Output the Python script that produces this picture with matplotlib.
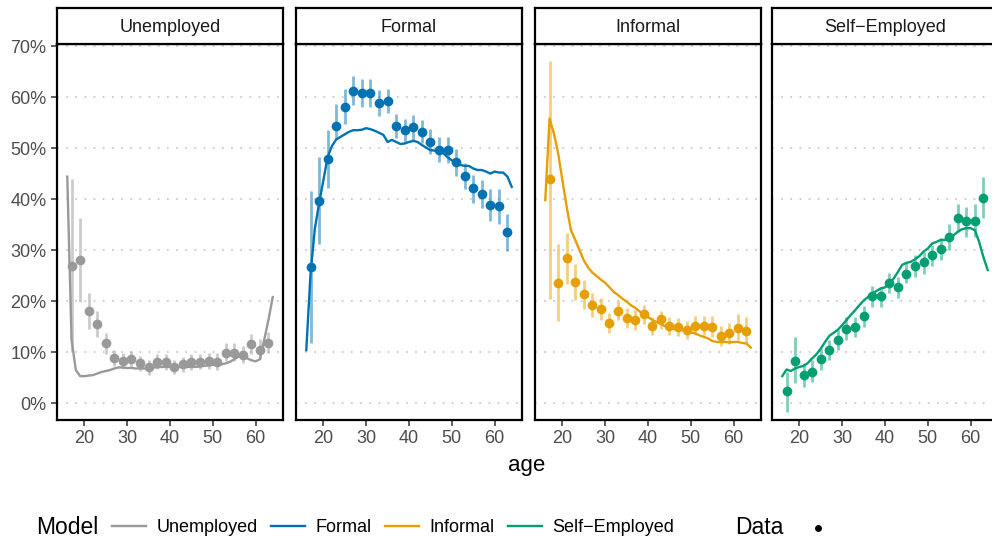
import numpy as np
import matplotlib.pyplot as plt
from matplotlib.lines import Line2D

plt.rcParams['font.family'] = ['Liberation Sans', 'DejaVu Sans']

groups = ['Unemployed', 'Formal', 'Informal', 'Self\u2212Employed']
colors = ['#999999', '#0072B2', '#E69F00', '#009E73']

# model shares, ages 16..64
age_model = np.arange(16, 65)
model_unemp = [44.4, 12.4, 6.5, 5.3, 5.3, 5.4, 5.5, 5.8, 6.1, 6.3, 6.5, 6.8, 7.0, 7.0, 6.9, 6.9, 6.8,
               6.8, 6.8, 6.9, 7.0, 7.0, 7.1, 7.1, 7.1, 7.1, 7.1, 7.1, 7.1, 7.1, 7.1, 7.2, 7.3, 7.4,
               7.5, 7.5, 7.6, 7.8, 8.1, 8.6, 9.1, 9.0, 8.8, 8.4, 8.2, 8.6, 12.4, 16.3, 20.8]
model_formal = [10.4, 25.4, 34.2, 39.2, 43.7, 48.3, 50.4, 51.7, 52.2, 52.7, 53.2, 53.5, 53.5, 53.6,
                53.9, 53.7, 53.4, 53.0, 52.6, 51.2, 51.6, 51.2, 50.8, 50.9, 51.2, 51.4, 51.2, 50.6,
                50.1, 49.6, 49.5, 49.5, 49.0, 48.2, 47.6, 47.3, 46.7, 46.5, 46.5, 46.0, 45.7, 45.7,
                45.4, 45.0, 45.4, 45.2, 45.2, 44.4, 42.4]
model_informal = [39.8, 55.8, 52.9, 49.0, 43.7, 38.5, 33.9, 32.0, 30.0, 28.0, 26.6, 25.6, 24.9, 24.2,
                  23.6, 22.7, 21.8, 21.2, 20.5, 19.9, 19.2, 18.7, 18.0, 17.5, 16.9, 16.3, 15.9, 15.5,
                  15.1, 15.0, 14.6, 14.4, 14.3, 14.1, 13.8, 13.7, 13.3, 13.0, 12.7, 12.2, 12.0, 12.0,
                  12.0, 11.9, 12.0, 12.0, 11.8, 11.7, 10.9]
model_self = [5.3, 6.6, 6.3, 6.8, 7.1, 7.3, 7.9, 8.8, 9.6, 10.7, 12.0, 13.2, 13.8, 14.4, 15.3, 16.3,
              17.3, 18.2, 19.2, 20.1, 20.8, 21.5, 22.0, 22.5, 22.7, 23.5, 24.4, 25.7, 27.1, 27.5,
              27.7, 28.2, 28.8, 29.7, 30.3, 31.3, 31.6, 32.0, 32.0, 32.5, 32.9, 33.6, 34.1, 34.3,
              34.3, 33.9, 31.6, 28.6, 26.1]

# observed shares with confidence bands, ages 17, 19, ..., 63
age_data = np.arange(17, 64, 2)
data_unemp = [26.9, 28.0, 18.1, 15.5, 11.7, 8.8, 8.2, 8.6, 7.8, 7.0, 8.1, 8.0, 7.1, 7.6, 8.0, 8.1,
              8.2, 8.1, 9.9, 9.9, 9.5, 11.5, 10.5, 11.8]
lo_unemp = [10.1, 19.9, 14.6, 13.0, 9.7, 7.3, 6.7, 7.1, 6.4, 5.6, 6.6, 6.5, 5.8, 6.2, 6.5, 6.6, 6.7,
            6.5, 8.2, 8.2, 7.8, 9.6, 8.6, 9.8]
hi_unemp = [43.9, 36.2, 21.5, 18.1, 13.7, 10.4, 9.8, 10.2, 9.3, 8.5, 9.6, 9.6, 8.5, 9.1, 9.6, 9.7,
            9.8, 9.8, 11.7, 11.7, 11.3, 13.5, 12.5, 14.0]
data_formal = [26.7, 39.7, 47.8, 54.3, 58.1, 61.2, 60.7, 60.8, 58.9, 59.2, 54.3, 53.5, 54.1, 53.2,
               51.2, 49.7, 49.6, 47.2, 44.5, 42.2, 41.0, 38.8, 38.6, 33.5]
lo_formal = [11.7, 31.2, 42.1, 51.7, 54.7, 58.4, 58.1, 58.1, 56.3, 56.8, 51.9, 51.2, 51.6, 50.9,
             48.8, 47.3, 47.1, 44.5, 41.9, 39.3, 38.2, 35.8, 35.2, 29.9]
hi_formal = [41.6, 48.3, 53.5, 58.6, 61.5, 64.1, 63.5, 63.5, 61.4, 61.5, 56.7, 55.7, 56.5, 55.5,
             53.7, 52.1, 52.1, 49.9, 47.1, 44.7, 43.7, 41.9, 41.9, 37.1]
data_informal = [43.9, 23.6, 28.4, 23.7, 21.4, 19.2, 18.4, 15.8, 18.1, 16.6, 16.3, 17.4, 15.1, 16.4,
                 15.1, 15.0, 14.3, 15.2, 15.2, 15.0, 13.1, 13.7, 14.8, 14.1]
lo_informal = [20.5, 16.1, 23.3, 20.2, 18.4, 16.9, 16.3, 13.8, 16.3, 14.8, 14.4, 15.5, 13.3, 14.6,
               13.3, 13.1, 12.5, 13.3, 13.3, 13.0, 11.2, 11.6, 12.4, 11.4]
hi_informal = [67.1, 31.2, 33.4, 27.3, 24.2, 21.5, 20.7, 17.6, 20.1, 18.6, 18.2, 19.2, 16.9, 18.1,
               16.8, 16.6, 16.1, 17.1, 17.1, 17.1, 15.1, 15.8, 17.5, 16.9]
data_self = [2.4, 8.3, 5.5, 6.1, 8.6, 10.4, 12.4, 14.6, 15.0, 17.1, 21.0, 21.0, 23.6, 22.8, 25.4,
             26.9, 27.7, 29.0, 30.2, 32.6, 36.2, 35.8, 35.8, 40.3]
lo_self = [-1.7, 3.9, 3.2, 4.2, 6.5, 8.4, 10.4, 12.4, 13.0, 15.0, 18.9, 18.9, 21.5, 20.7, 23.5, 24.8,
           25.4, 26.9, 28.0, 30.0, 33.6, 32.6, 32.6, 36.2]
hi_self = [6.1, 13.0, 7.9, 8.4, 10.7, 12.4, 14.3, 16.9, 16.9, 19.0, 22.9, 22.8, 25.6, 24.8, 27.4,
           29.0, 29.7, 31.0, 32.3, 35.2, 39.0, 38.5, 39.0, 44.4]

models = [model_unemp, model_formal, model_informal, model_self]
datas = [data_unemp, data_formal, data_informal, data_self]
los = [lo_unemp, lo_formal, lo_informal, lo_self]
his = [hi_unemp, hi_formal, hi_informal, hi_self]

yticks = [0, 10, 20, 30, 40, 50, 60, 70]
xticks = [20, 30, 40, 50, 60]

W, H = 992, 540
fig = plt.figure(figsize=(W / 100, H / 100), dpi=100)

lefts = [57, 296, 535, 772]
pw = 226
top, bottom = 44, 420
strip_top = 8

for i in range(4):
    ax = fig.add_axes([lefts[i] / W, (H - bottom) / H, pw / W, (bottom - top) / H])
    for y in yticks:
        ax.axhline(y, color='#c4c4c4', lw=1.2, ls=(0, (1, 4.5)), zorder=0)
    ax.plot(age_model, models[i], color=colors[i], lw=1.7, zorder=2)
    ax.vlines(age_data, los[i], his[i], color=colors[i], alpha=0.5, lw=2.0, zorder=3)
    ax.plot(age_data, datas[i], 'o', color=colors[i], ms=7.0, mew=0, zorder=4)
    ax.set_xlim(13.6, 66.4)
    ax.set_ylim(-3.3, 70.4)
    ax.set_xticks(xticks)
    ax.set_yticks(yticks)
    ax.tick_params(colors='#333333', labelcolor='#4d4d4d', labelsize=13, length=4, width=1.1)
    if i == 0:
        ax.set_yticklabels([f'{y}%' for y in yticks])
    else:
        ax.tick_params(axis='y', length=0, labelleft=False)
    for s in ax.spines.values():
        s.set_linewidth(1.6)
        s.set_color('black')

    # facet strip
    sx = fig.add_axes([lefts[i] / W, (H - top) / H, pw / W, (top - strip_top) / H])
    sx.set_xticks([])
    sx.set_yticks([])
    for s in sx.spines.values():
        s.set_linewidth(1.6)
        s.set_color('black')
    sx.text(0.5, 0.45, groups[i], ha='center', va='center', fontsize=13,
            color='#1a1a1a', transform=sx.transAxes)
    if i == 3:
        # last panel runs past the right edge
        ax.spines['right'].set_visible(False)
        sx.spines['right'].set_visible(False)

fig.text(527 / W, (H - 465) / H, 'age', ha='center', va='center', fontsize=16)

# legend row
ly = (H - 528) / H
fig.text(36 / W, ly, 'Model', ha='left', va='center', fontsize=16.5)
handles = [Line2D([], [], color=c, lw=1.7) for c in colors]
fig.legend(handles, groups, ncol=4, loc='center left', bbox_to_anchor=(112 / W, ly),
           frameon=False, fontsize=13, handlelength=1.9, handletextpad=0.55,
           columnspacing=0.75, borderpad=0, borderaxespad=0)
fig.text(735 / W, ly, 'Data', ha='left', va='center', fontsize=16.5)
fig.add_artist(Line2D([818 / W], [ly], marker='o', color='black', ms=5, mew=0,
                      transform=fig.transFigure))

fig.savefig('out.png', dpi=100)
